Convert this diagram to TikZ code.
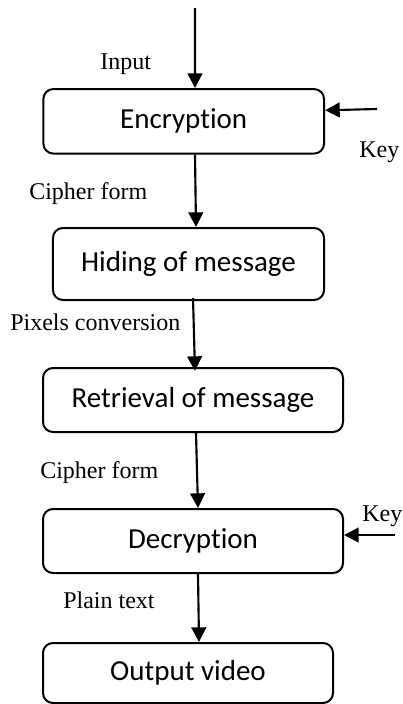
\documentclass[tikz,border=0pt]{standalone}
\usepackage{fontspec}
\setmainfont{Liberation Serif}
\newfontfamily\boxfont[RawFeature={-liga;-clig;-dlig;-calt}]{Carlito}
\usetikzlibrary{arrows.meta,calc}
\definecolor{ink}{HTML}{000000}
\tikzset{
  >={Triangle[length=11pt,width=11pt]},
  stagebox/.style={draw=ink, rounded corners=7.5pt, line width=1.5pt, align=center,
    font=\boxfont\fontsize{21.75}{26}\selectfont, inner sep=0pt},
  flowarr/.style={->, draw=ink, line width=1.6pt},
  lbl/.style={font=\fontsize{18}{21}\selectfont, text=ink, inner sep=0pt, anchor=base west},
}
\begin{document}
\begin{tikzpicture}[x=0.75pt, y=-0.75pt]
  \useasboundingbox (0,0) rectangle (403,704);
  % ---------------- stages ----------------
  \node[stagebox, minimum width=210.5pt, minimum height=48.4pt] (enc) at (183.7,121.3) {Encryption};
  \node[stagebox, minimum width=203.3pt, minimum height=54pt] (hid) at (188.5,264) {Hiding of message};
  \node[stagebox, minimum width=225pt, minimum height=48pt] (ret) at (193,400) {Retrieval of message};
  \node[stagebox, minimum width=225pt, minimum height=48pt] (dec) at (193,541) {Decryption};
  \node[stagebox, minimum width=217.5pt, minimum height=45pt] (outv) at (188,673) {Output video};
  % free ends of the inputs
  \coordinate (inp) at (195,8);
  \coordinate (key1) at (377,109);
  \coordinate (key2) at (395,535);
  % ---------------- flow ----------------
  \draw[flowarr] (inp) -- ($(enc.north)+(11.3,0)$);
  \draw[flowarr] (key1) -- ($(enc.east)+(0,-11)$);
  \draw[flowarr] ($(enc.south)+(11.3,0)$) -- ($(hid.north)+(7.5,0)$);
  \draw[flowarr] ($(hid.south)+(4.5,-3)$) -- ($(ret.north)+(2,4)$);
  \draw[flowarr] ($(ret.south)+(3,0)$) -- ($(dec.north)+(5,0)$);
  \draw[flowarr] (key2) -- ($(dec.east)+(0,-6)$);
  \draw[flowarr] ($(dec.south)+(5,0)$) -- ($(outv.north)+(11,0)$);
  % ---------------- labels ----------------
  \node[lbl] (linp) at (100,69) {Input};
  \node[lbl] (lkey1) at (359,157) {Key};
  \node[lbl] (lcip1) at (29,199) {Cipher form};
  \node[lbl] (lpix) at (10,330) {Pixels conversion};
  \node[lbl] (lcip2) at (40,478) {Cipher form};
  \node[lbl] (lkey2) at (362,521) {Key};
  \node[lbl] (lpln) at (63,608) {Plain text};
\end{tikzpicture}
\end{document}
